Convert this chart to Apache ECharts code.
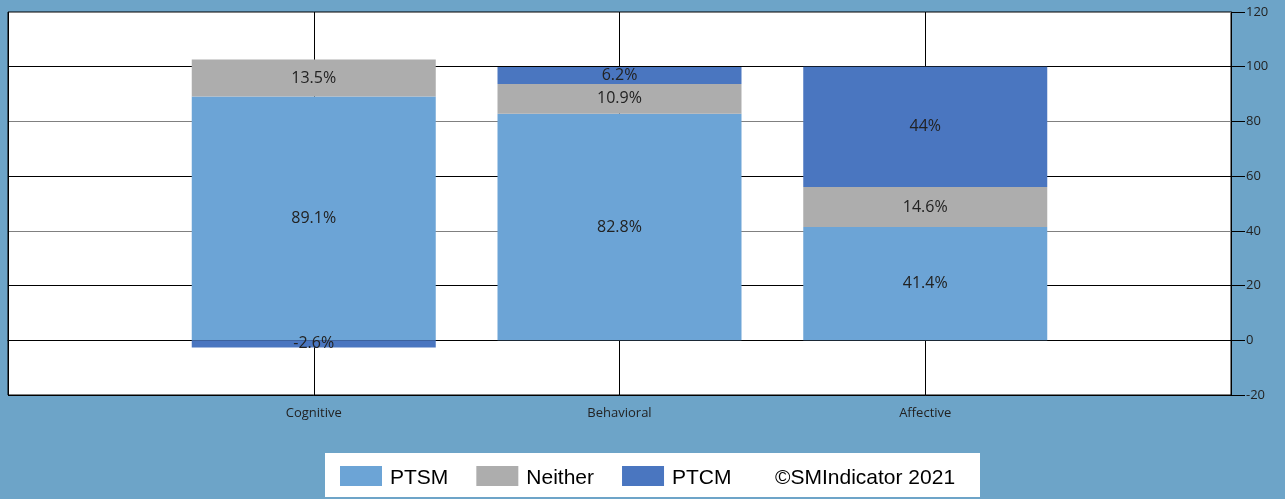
<!DOCTYPE html>
<html>
<head>
<meta charset="utf-8">
<script src="https://cdn.jsdelivr.net/npm/echarts@6/dist/echarts.min.js"></script>
<style>
html,body{margin:0;padding:0;background:#6da4c8;}
#c{width:1285px;height:499px;}
</style>
</head>
<body>
<div id="c"></div>
<script>
const categories = ['Cognitive', 'Behavioral', 'Affective'];
const ptsm = [89.1, 82.8, 41.4];
const neither = [13.5, 10.9, 14.6];
const ptcm = [-2.6, 6.2, 44];
const yTicks = { min: -20, max: 120, interval: 20 };
const copyright = '©SMIndicator 2021';

const axisData = [' ', ...categories, '  '];
const pad = arr => ['-', ...arr, '-'];

const labelStyle = {
  show: true, position: 'inside', formatter: '{c}%',
  fontFamily: 'Open Sans', fontSize: 16, color: '#222'
};

const chart = echarts.init(document.getElementById('c'));
chart.setOption({
  backgroundColor: '#6da4c8',
  animation: false,
  grid: {
    left: 8, right: 54, top: 12, bottom: 104,
    show: true, backgroundColor: '#fff', borderColor: '#000', borderWidth: 1
  },
  xAxis: {
    type: 'category', data: axisData, boundaryGap: false,
    axisLine: { show: true, lineStyle: { color: '#000' } },
    axisTick: { show: true, length: 6, interval: 0, lineStyle: { color: '#000' } },
    axisLabel: { interval: 0, margin: 12, fontFamily: 'Open Sans', fontSize: 13, color: '#222' },
    splitLine: { show: true, interval: 0, lineStyle: { color: '#000' } }
  },
  yAxis: {
    type: 'value', position: 'right', min: yTicks.min, max: yTicks.max, interval: yTicks.interval,
    axisLine: { show: true, lineStyle: { color: '#000' } },
    axisTick: { show: true, length: 14, lineStyle: { color: '#000' } },
    axisLabel: { margin: 15, fontFamily: 'Open Sans', fontSize: 13, color: '#222' },
    splitLine: { show: true, lineStyle: { color: ['#000', '#808080'] } }
  },
  legend: {
    data: ['PTSM', 'Neither', 'PTCM'],
    left: 340, top: 466, padding: 0,
    itemWidth: 42, itemHeight: 20, itemGap: 28,
    icon: 'rect',
    formatter: '{t|{name}}',
    textStyle: {
      fontFamily: 'Liberation Sans', fontSize: 21, color: '#000',
      rich: { t: { fontFamily: 'Liberation Sans', fontSize: 21, color: '#000', padding: [5, 0, 0, 3] } }
    }
  },
  graphic: [
    { type: 'rect', z: 0, shape: { x: 325, y: 453, width: 655, height: 44 }, style: { fill: '#fff' } },
    { type: 'text', z: 5, x: 775, y: 478,
      style: { text: copyright, fontFamily: 'Liberation Sans', fontSize: 21, fill: '#000', verticalAlign: 'middle' } }
  ],
  series: [
    { name: 'PTSM', type: 'bar', stack: 'total', barWidth: 244, data: pad(ptsm),
      itemStyle: { color: '#6ca4d6' }, label: labelStyle },
    { name: 'Neither', type: 'bar', stack: 'total', barWidth: 244, data: pad(neither),
      itemStyle: { color: '#adadad' }, label: labelStyle },
    { name: 'PTCM', type: 'bar', stack: 'total', barWidth: 244, data: pad(ptcm),
      itemStyle: { color: '#4a76c0' }, label: labelStyle }
  ]
});
</script>
</body>
</html>
